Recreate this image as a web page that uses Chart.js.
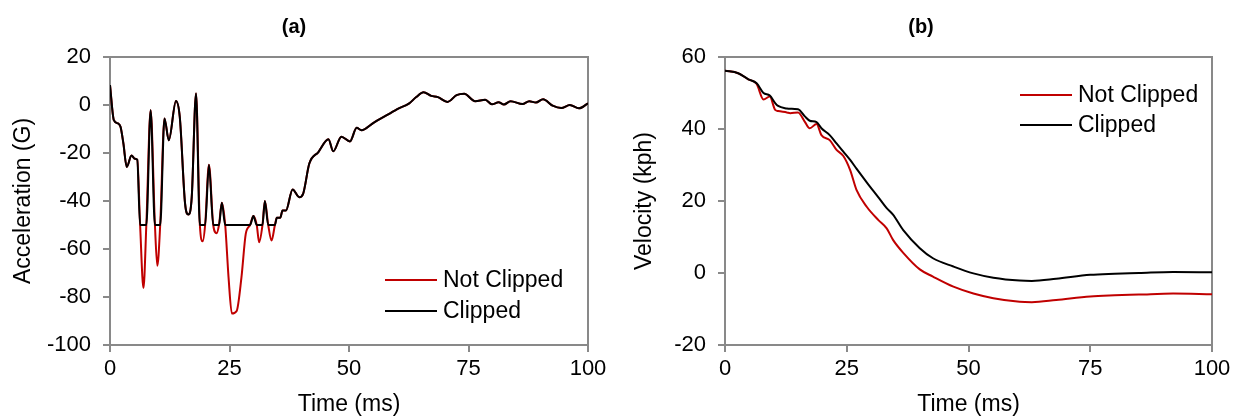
<!DOCTYPE html>
<html>
<head>
<meta charset="utf-8">
<title>Acceleration and Velocity</title>
<script src="https://cdn.jsdelivr.net/npm/chart.js@4.4.1/dist/chart.umd.min.js"></script>
<style>
  body { margin: 0; background: #fff; }
  #wrap { position: relative; width: 1238px; height: 420px; overflow: hidden; }
  canvas { position: absolute; top: 0; }
  #accelChart { left: 0; }
  #velChart { left: 630px; }
</style>
</head>
<body>
<div id="wrap">
  <canvas id="accelChart" width="632" height="420"></canvas>
  <canvas id="velChart" width="608" height="420"></canvas>
</div>
<script>
//////////////////////
// data
//////////////////////

const timeTicks = [0, 25, 50, 75, 100];
const accelTicks = [20, 0, -20, -40, -60, -80, -100];
const velTicks = [60, 40, 20, 0, -20];

// (a) acceleration, G
const accelTime = [0, 0.8, 1.7, 2.2, 2.8, 3.5, 4.5, 5.2, 5.7, 6.3,
  7.0, 7.6, 8.5, 9.4, 9.9, 10.5, 11.4, 12.3, 13.8, 14.6,
  15.7, 16.4, 17.1, 18.0, 18.8, 19.4, 19.9, 20.7, 21.6, 22.3,
  22.8, 23.4, 24.1, 24.8, 25.5, 26.5, 27.5, 28.4, 29.3, 30.0,
  30.7, 31.2, 31.9, 32.4, 33.1, 33.8, 34.5, 34.9, 35.6, 36.1,
  36.8, 38.2, 39.6, 40.4, 41.7, 43.6, 45.7, 46.7, 48.4, 50.2,
  51.6, 52.6, 55.2, 58.4, 60.1, 62.6, 64.0, 65.6, 67.2, 68.6,
  70.6, 72.5, 74.1, 76.4, 78.5, 79.9, 81.3, 82.4, 83.8, 86.3,
  87.7, 89.1, 90.6, 92.6, 94.4, 96.2, 98.1, 100];
const accelNotClipped = [8.3, -6.3, -7.7, -9.1, -16, -25.8, -21, -22.4, -22.8, -50,
  -76.3, -50, -2.2, -50, -67, -50, -5.6, -14.7, 1.7, -5,
  -41, -45.6, -38.4, 4.8, -50, -56.8, -50, -24.9, -50, -53.4,
  -50, -40.7, -50, -71.8, -86.9, -85.8, -71.8, -53.7, -50, -46.3,
  -50, -57.2, -50, -40, -50, -56.5, -50, -47, -47, -44,
  -44, -35.2, -38.4, -37, -24.4, -19.6, -14.3, -19.3, -13.2, -15.2,
  -9.5, -10.5, -7.3, -3.7, -1.7, 0.7, 3.2, 5.3, 3.8, 3.3,
  1.3, 4.1, 4.7, 1.6, 2.2, 0.3, 1.1, 0.2, 1.6, 0.4,
  1.6, 1.0, 2.4, -0.3, -1.3, 0.0, -1.4, 0.7];
const accelClipped = [8.3, -6.3, -7.7, -9.1, -16, -25.8, -21, -22.4, -22.8, -50,
  -50, -50, -2.2, -50, -50, -50, -5.6, -14.7, 1.7, -5,
  -41, -45.6, -38.4, 4.8, -50, -50, -50, -24.9, -50, -50,
  -50, -40.7, -50, -50, -50, -50, -50, -50, -50, -46.3,
  -50, -50, -50, -40, -50, -50, -50, -47, -47, -44,
  -44, -35.2, -38.4, -37, -24.4, -19.6, -14.3, -19.3, -13.2, -15.2,
  -9.5, -10.5, -7.3, -3.7, -1.7, 0.7, 3.2, 5.3, 3.8, 3.3,
  1.3, 4.1, 4.7, 1.6, 2.2, 0.3, 1.1, 0.2, 1.6, 0.4,
  1.6, 1.0, 2.4, -0.3, -1.3, 0.0, -1.4, 0.7];

// (b) velocity, kph
const velTime = [0, 2.7, 4.8, 6.5, 7.9, 9.2, 10.3, 10.9, 12.7, 13.4,
  15.0, 16.4, 17.4, 18.8, 19.8, 21.5, 22.9, 24.3, 25.7, 27.0,
  29.1, 31.5, 33.2, 34.5, 36.6, 40.0, 42.7, 46.9, 51.0, 55.1,
  60.5, 63, 68, 75, 80, 85, 92, 100];
const velNotClipped = [56.2, 55.5, 53.8, 52.5, 48.2, 49.0, 45.3, 45.0, 44.6, 44.4,
  44.6, 42.0, 40.2, 41.4, 38.3, 36.9, 34.2, 32.5, 28.6, 23.1,
  18.4, 14.7, 12.4, 9.2, 5.6, 1.0, -1.0, -3.8, -5.7, -7.0,
  -8.0, -8.1, -7.5, -6.5, -6.2, -6.0, -5.7, -5.9];
const velClipped = [56.2, 55.5, 53.8, 52.7, 50.0, 49.3, 47.2, 46.4, 45.7, 45.6,
  45.5, 43.5, 42.3, 41.9, 40.2, 38.3, 36.0, 33.7, 31.4, 29.0,
  25.2, 21.0, 18.0, 16.2, 11.9, 6.9, 4.1, 1.8, -0.1, -1.3,
  -2.1, -2.2, -1.6, -0.5, -0.2, 0.0, 0.3, 0.2];

//////////////////////
// styles
//////////////////////

const red = '#c00000';
const black = '#000000';
const axisGrey = '#898989';
const fontFamily = "'Liberation Sans', Arial, sans-serif";

Chart.defaults.font.family = fontFamily;
Chart.defaults.color = '#000';

//////////////////////
// functions
//////////////////////

function toPoints(xs, ys) {
  const pts = [];
  for (let i = 0; i < xs.length; i++) {
    pts.push({ x: xs[i], y: ys[i] });
  }
  return pts;
}

function makeDataset(label, xs, ys, color, order) {
  return {
    label: label,
    data: toPoints(xs, ys),
    borderColor: color,
    backgroundColor: color,
    borderWidth: 2,
    pointRadius: 0,
    cubicInterpolationMode: 'monotone',
    order: order
  };
}

// frame round the plot area plus a legend sitting inside it
const panelExtras = {
  id: 'panelExtras',
  beforeDatasetsDraw(chart) {
    const ctx = chart.ctx;
    const a = chart.chartArea;
    ctx.save();
    ctx.strokeStyle = axisGrey;
    ctx.lineWidth = 2;
    ctx.strokeRect(a.left, a.top, a.right - a.left, a.bottom - a.top);
    ctx.restore();
  },
  afterDraw(chart, args, opts) {
    const ctx = chart.ctx;
    const a = chart.chartArea;
    ctx.save();
    ctx.font = '23px ' + fontFamily;
    ctx.textBaseline = 'middle';
    ctx.textAlign = 'left';
    chart.data.datasets.forEach(function (ds, i) {
      const y = a.top + opts.y + i * opts.gap;
      const x = a.left + opts.x;
      ctx.strokeStyle = ds.borderColor;
      ctx.lineWidth = 2;
      ctx.beginPath();
      ctx.moveTo(x, y);
      ctx.lineTo(x + 52, y);
      ctx.stroke();
      ctx.fillStyle = '#000';
      ctx.fillText(ds.label, x + 58, y + 1);
    });
    ctx.restore();
  }
};

function makeChart(canvasId, cfg) {
  const xTicks = cfg.xTicks;
  const yTicks = cfg.yTicks;
  return new Chart(document.getElementById(canvasId), {
    type: 'line',
    data: {
      datasets: [
        makeDataset('Not Clipped', cfg.time, cfg.notClipped, red, 2),
        makeDataset('Clipped', cfg.time, cfg.clipped, black, 1)
      ]
    },
    options: {
      responsive: false,
      animation: false,
      layout: { padding: { left: 0, right: cfg.padRight, top: 0, bottom: 0 } },
      plugins: {
        legend: { display: false },
        tooltip: { enabled: false },
        title: {
          display: true,
          text: cfg.title,
          color: '#000',
          font: { size: 20, weight: 'bold' },
          padding: { top: 15, bottom: 18 }
        },
        panelExtras: cfg.legend
      },
      scales: {
        x: {
          type: 'linear',
          min: xTicks[0],
          max: xTicks[xTicks.length - 1],
          afterBuildTicks: function (scale) {
            scale.ticks = xTicks.map(function (v) { return { value: v }; });
          },
          ticks: { font: { size: 22 }, color: '#000', padding: 4, maxRotation: 0 },
          grid: { drawOnChartArea: false, drawTicks: true, tickLength: 7, color: axisGrey, lineWidth: 2 },
          border: { color: axisGrey, width: 2 },
          title: { display: true, text: 'Time (ms)', font: { size: 23 }, color: '#000', padding: { top: 4, bottom: 2 } },
          afterFit: function (scale) { scale.height = 75; }
        },
        y: {
          type: 'linear',
          min: Math.min.apply(null, yTicks),
          max: Math.max.apply(null, yTicks),
          afterBuildTicks: function (scale) {
            scale.ticks = yTicks.slice().reverse().map(function (v) { return { value: v }; });
          },
          ticks: { font: { size: 22 }, color: '#000', padding: 12 },
          grid: { drawOnChartArea: false, drawTicks: true, tickLength: 7, color: axisGrey, lineWidth: 2 },
          border: { color: axisGrey, width: 2 },
          title: { display: true, text: cfg.yTitle, font: { size: 23 }, color: '#000', padding: { top: cfg.yTitlePad, bottom: 0 } },
          afterFit: function (scale) { scale.width = cfg.yWidth; }
        }
      }
    },
    plugins: [panelExtras]
  });
}

function startApp() {
  makeChart('accelChart', {
    title: '(a)',
    yTitle: 'Acceleration (G)',
    time: accelTime,
    notClipped: accelNotClipped,
    clipped: accelClipped,
    xTicks: timeTicks,
    yTicks: accelTicks,
    yWidth: 110,
    yTitlePad: 10,
    padRight: 44,
    legend: { x: 275, y: 223, gap: 31 }
  });

  makeChart('velChart', {
    title: '(b)',
    yTitle: 'Velocity (kph)',
    time: velTime,
    notClipped: velNotClipped,
    clipped: velClipped,
    xTicks: timeTicks,
    yTicks: velTicks,
    yWidth: 95,
    yTitlePad: 1,
    padRight: 26,
    legend: { x: 295, y: 38, gap: 30 }
  });
}

///////////////////////
// Start App
///////////////////////
startApp();
</script>
</body>
</html>
